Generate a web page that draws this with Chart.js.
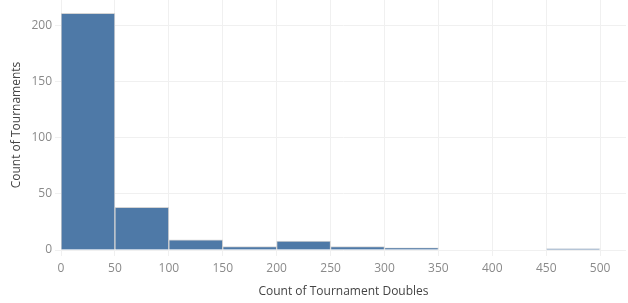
<!DOCTYPE html>
<html>
<head>
<meta charset="utf-8">
<script src="https://cdn.jsdelivr.net/npm/chart.js@4"></script>
<style>
  html, body { margin: 0; padding: 0; background: #fff; }
  #wrap { width: 628px; height: 303px; position: relative; }
</style>
</head>
<body>
<div id="wrap"><canvas id="histChart"></canvas></div>
<script>
// Bins of "Count of Tournament Doubles" (bin start) and counts per bin
const binStarts = [0, 50, 100, 150, 200, 250, 300, 350, 400, 450];
const binSize = 50;
const tournamentCounts = [211, 38, 9, 3, 8, 3, 2, 0, 0, 1];
const xTicks = [0, 50, 100, 150, 200, 250, 300, 350, 400, 450, 500];
const yTicks = [0, 50, 100, 150, 200];

const tickFont = { family: 'Open Sans', size: 12 };
const titleFont = { family: 'Open Sans', size: 12 };

function createHistogram() {
    const ctx = document.getElementById('histChart').getContext('2d');
    const points = binStarts.map((start, i) => ({ x: start + binSize / 2, y: tournamentCounts[i] }));

    new Chart(ctx, {
        type: 'bar',
        data: {
            datasets: [{
                data: points,
                backgroundColor: '#4e79a7',
                borderColor: '#d4d4d4',
                borderWidth: 1,
                barPercentage: 1,
                categoryPercentage: 1
            }]
        },
        options: {
            responsive: true,
            maintainAspectRatio: false,
            animation: false,
            layout: { padding: { top: 0, right: 2, bottom: 0, left: 0 } },
            plugins: {
                legend: { display: false },
                tooltip: { enabled: false }
            },
            scales: {
                x: {
                    type: 'linear',
                    offset: false,
                    min: 0,
                    max: 524,
                    afterBuildTicks: axis => { axis.ticks = xTicks.map(v => ({ value: v })); },
                    afterFit: axis => { axis.height = 53; axis.paddingLeft = 0; axis.paddingRight = 0; },
                    ticks: { color: '#8a8a8a', font: tickFont, padding: 5, maxRotation: 0 },
                    grid: { color: '#f0f0f0', tickLength: 6, tickColor: '#f0f0f0', offset: false },
                    border: { display: false },
                    title: {
                        display: true,
                        text: 'Count of Tournament Doubles',
                        color: '#444',
                        font: titleFont,
                        padding: { top: 4 }
                    }
                },
                y: {
                    min: 0,
                    max: 223,
                    afterBuildTicks: axis => { axis.ticks = yTicks.map(v => ({ value: v })); },
                    afterFit: axis => { axis.width = 61; axis.paddingTop = 0; axis.paddingBottom = 0; },
                    ticks: { color: '#8a8a8a', font: tickFont, padding: 3 },
                    grid: { color: '#f0f0f0', tickLength: 6, tickColor: '#f0f0f0' },
                    border: { display: false },
                    title: {
                        display: true,
                        text: 'Count of Tournaments',
                        color: '#444',
                        font: titleFont,
                        padding: { top: 9, bottom: 0 }
                    }
                }
            }
        }
    });
}

document.addEventListener('DOMContentLoaded', createHistogram);
</script>
</body>
</html>
